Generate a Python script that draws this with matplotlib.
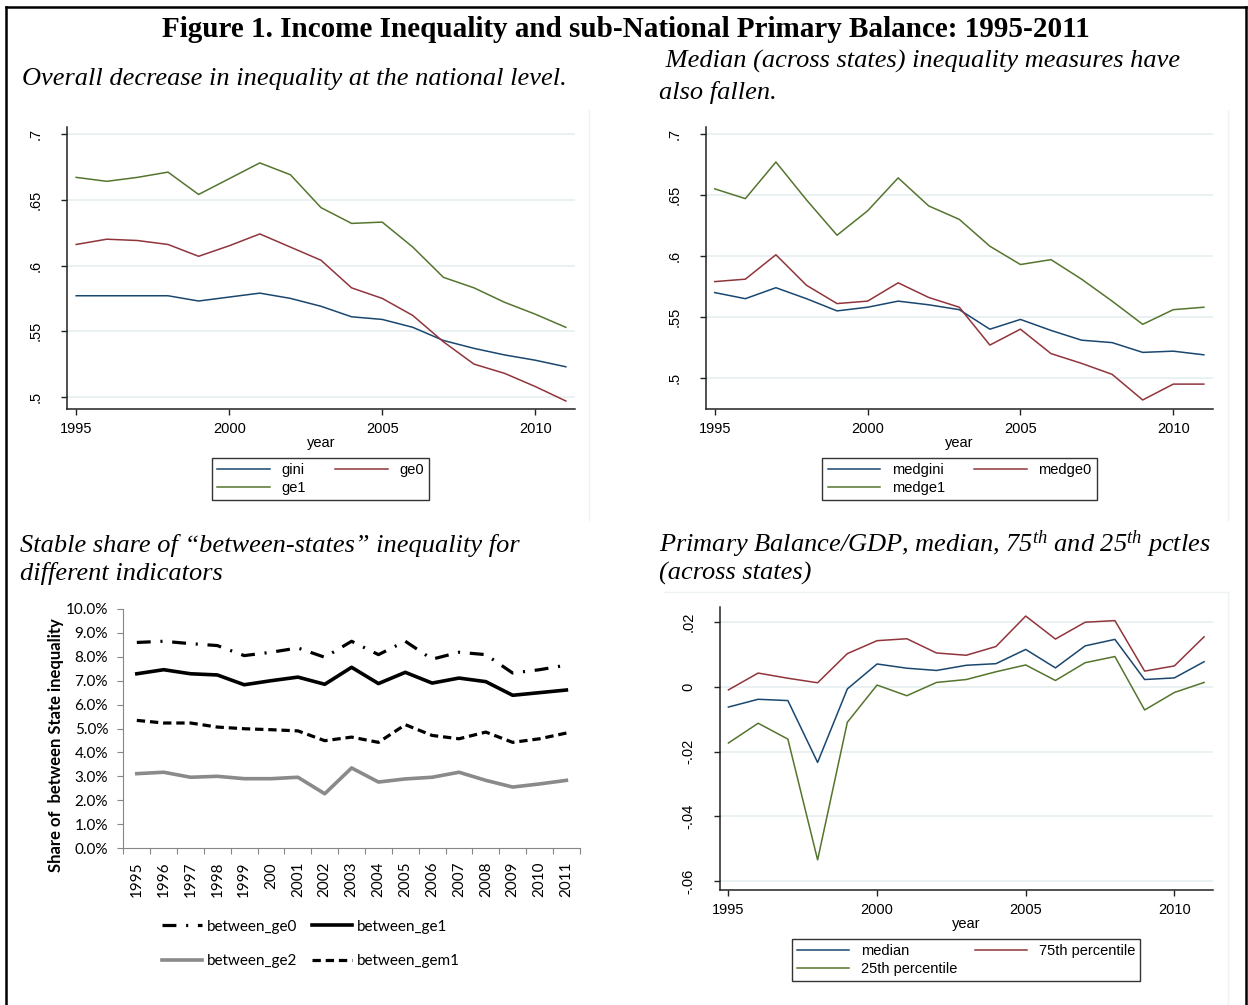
import matplotlib.pyplot as plt
from matplotlib.lines import Line2D
import numpy as np

plt.rcParams['font.family'] = ['Liberation Sans', 'DejaVu Sans']
plt.rcParams['mathtext.fontset'] = 'custom'
plt.rcParams['mathtext.it'] = 'Liberation Serif:italic'
plt.rcParams['mathtext.rm'] = 'Liberation Serif:italic'
plt.rcParams['lines.scale_dashes'] = False

years = list(range(1995, 2012))

# national inequality
gini = [0.577, 0.577, 0.577, 0.577, 0.573, 0.576, 0.579, 0.575, 0.569, 0.561, 0.559,
        0.553, 0.543, 0.537, 0.532, 0.528, 0.523]
ge0 = [0.616, 0.620, 0.619, 0.616, 0.607, 0.615, 0.624, 0.614, 0.604, 0.583, 0.575,
       0.562, 0.542, 0.525, 0.518, 0.508, 0.497]
ge1 = [0.667, 0.664, 0.667, 0.671, 0.654, 0.666, 0.678, 0.669, 0.644, 0.632, 0.633,
       0.614, 0.591, 0.583, 0.572, 0.563, 0.553]

# median across states
medgini = [0.570, 0.565, 0.574, 0.565, 0.555, 0.558, 0.563, 0.560, 0.556, 0.540, 0.548,
           0.539, 0.531, 0.529, 0.521, 0.522, 0.519]
medge0 = [0.579, 0.581, 0.601, 0.576, 0.561, 0.563, 0.578, 0.566, 0.558, 0.527, 0.540,
          0.520, 0.512, 0.503, 0.482, 0.495, 0.495]
medge1 = [0.655, 0.647, 0.677, 0.646, 0.617, 0.637, 0.664, 0.641, 0.630, 0.608, 0.593,
          0.597, 0.581, 0.563, 0.544, 0.556, 0.558]

# share of between-states inequality (percent)
cats = ["1995", "1996", "1997", "1998", "1999", "200", "2001", "2002", "2003", "2004",
        "2005", "2006", "2007", "2008", "2009", "2010", "2011"]
between_ge0 = [8.60, 8.65, 8.55, 8.47, 8.05, 8.19, 8.37, 7.98, 8.65, 8.09, 8.65,
               7.90, 8.19, 8.09, 7.32, 7.46, 7.65]
between_ge1 = [7.29, 7.46, 7.29, 7.24, 6.83, 7.00, 7.15, 6.85, 7.56, 6.88, 7.35,
               6.90, 7.11, 6.96, 6.39, 6.50, 6.61]
between_ge2 = [3.11, 3.17, 2.96, 3.00, 2.90, 2.90, 2.96, 2.27, 3.35, 2.76, 2.89,
               2.96, 3.17, 2.83, 2.55, 2.68, 2.83]
between_gem1 = [5.34, 5.23, 5.23, 5.06, 4.99, 4.95, 4.90, 4.49, 4.64, 4.42, 5.16,
                4.71, 4.57, 4.85, 4.42, 4.57, 4.81]

# primary balance / GDP
pb_median = [-0.0062, -0.0038, -0.0042, -0.0233, -0.0006, 0.0071, 0.0058, 0.0051, 0.0067,
             0.0072, 0.0116, 0.0059, 0.0127, 0.0147, 0.0023, 0.0028, 0.0078]
pb_p75 = [-0.0009, 0.0043, 0.0027, 0.0013, 0.0103, 0.0143, 0.0149, 0.0105, 0.0098,
          0.0125, 0.0219, 0.0148, 0.0200, 0.0205, 0.0049, 0.0065, 0.0155]
pb_p25 = [-0.0173, -0.0112, -0.0161, -0.0534, -0.0109, 0.0006, -0.0027, 0.0014, 0.0023,
          0.0047, 0.0068, 0.0020, 0.0075, 0.0094, -0.0071, -0.0017, 0.0014]

W, H = 1248, 1005
fig = plt.figure(figsize=(W / 100, H / 100), dpi=100)

def box(x0, y0, x1, y1):
    # pixel box (top-left origin) -> figure fraction rect
    return [x0 / W, 1 - y1 / H, (x1 - x0) / W, (y1 - y0) / H]

stata_cols = ['#1a476f', '#90353b', '#55752f']
serif = ['Liberation Serif', 'DejaVu Serif']

def stata_panel(rect, series, labels, ylim, yticks, yticklabels, leg_xy, leg_cs):
    ax = fig.add_axes(rect)
    for vals, col, lab in zip(series, stata_cols, labels):
        ax.plot(years, vals, color=col, lw=1.1, label=lab)
    ax.set_xlim(1994.7, 2011.3)
    ax.set_ylim(*ylim)
    ax.set_xticks([1995, 2000, 2005, 2010])
    ax.set_yticks(yticks)
    ax.set_yticklabels(yticklabels, rotation=90, va='center')
    ax.grid(axis='y', color='#e3edf0', lw=1.1)
    ax.set_axisbelow(True)
    for s in ['top', 'right']:
        ax.spines[s].set_visible(False)
    for s in ['left', 'bottom']:
        ax.spines[s].set_color('#222222')
        ax.spines[s].set_linewidth(1.1)
    ax.tick_params(direction='out', length=4.3, width=1, labelsize=10.5, color='#222222')
    ax.tick_params(axis='y', pad=13)
    ax.tick_params(axis='x', pad=5)
    ax.set_xlabel('year', fontsize=10.5, labelpad=0)
    h = ax.get_lines()
    leg = fig.legend([h[0], h[2], h[1]], [labels[0], labels[2], labels[1]], ncol=2,
                     loc='center', bbox_to_anchor=(leg_xy[0] / W, 1 - leg_xy[1] / H),
                     frameon=True, fancybox=False, edgecolor='black', fontsize=10.5,
                     handlelength=3.6, columnspacing=leg_cs, labelspacing=0.25,
                     borderpad=0.35, handletextpad=0.8)
    leg.get_frame().set_linewidth(1.0)
    return ax

# frame
fig.add_artist(Line2D([5.5 / W, 5.5 / W], [0, 1 - 7 / H], color='black', lw=1.8))
fig.add_artist(Line2D([1245.5 / W, 1245.5 / W], [0, 1 - 7 / H], color='black', lw=1.8))
fig.add_artist(Line2D([5.5 / W, 1245.5 / W], [1 - 7 / H, 1 - 7 / H], color='black', lw=1.8))
# faint graph-region borders
faint = '#eef2f2'
fig.add_artist(Line2D([589 / W, 589 / W], [1 - 110 / H, 1 - 520 / H], color=faint, lw=1))
fig.add_artist(Line2D([1228 / W, 1228 / W], [1 - 110 / H, 1 - 520 / H], color=faint, lw=1))
fig.add_artist(Line2D([664 / W, 1228 / W], [1 - 592 / H, 1 - 592 / H], color=faint, lw=1))
fig.add_artist(Line2D([1228 / W, 1228 / W], [1 - 592 / H, 0], color=faint, lw=1))

# titles
fig.text(626 / W, 1 - 37 / H, 'Figure 1. Income Inequality and sub-National Primary Balance: 1995-2011',
         ha='center', va='baseline', fontsize=21, fontweight='bold', family=serif)
fig.text(22 / W, 1 - 85 / H, 'Overall decrease in inequality at the national level.',
         va='baseline', fontsize=19, style='italic', family=serif)
fig.text(659 / W, 1 - 68 / H, ' Median (across states) inequality measures have',
         va='baseline', fontsize=19, style='italic', family=serif)
fig.text(659 / W, 1 - 99 / H, 'also fallen.',
         va='baseline', fontsize=19, style='italic', family=serif)
fig.text(20 / W, 1 - 552 / H, 'Stable share of \u201cbetween-states\u201d inequality for',
         va='baseline', fontsize=19, style='italic', family=serif)
fig.text(20 / W, 1 - 580 / H, 'different indicators',
         va='baseline', fontsize=19, style='italic', family=serif)
fig.text(659 / W, 1 - 552 / H, r'Primary Balance/GDP, median, 75$^{th}$ and 25$^{th}$ pctles',
         va='baseline', fontsize=19, style='italic', family=serif)
fig.text(659 / W, 1 - 580 / H, '(across states)',
         va='baseline', fontsize=19, style='italic', family=serif)

# top-left
stata_panel(box(67, 127, 575, 409), [gini, ge0, ge1], ['gini', 'ge0', 'ge1'],
            (0.4909, 0.7053), [0.5, 0.55, 0.6, 0.65, 0.7], ['.5', '.55', '.6', '.65', '.7'],
            (320.5, 479), 2.0)

# top-right
stata_panel(box(705.6, 127, 1213, 409), [medgini, medge0, medge1], ['medgini', 'medge0', 'medge1'],
            (0.4746, 0.7057), [0.5, 0.55, 0.6, 0.65, 0.7], ['.5', '.55', '.6', '.65', '.7'],
            (959.5, 479), 2.0)

# bottom-right
stata_panel(box(719.5, 607, 1213, 890), [pb_median, pb_p75, pb_p25],
            ['median', '75th percentile', '25th percentile'],
            (-0.0627, 0.0247), [-0.06, -0.04, -0.02, 0, 0.02], ['-.06', '-.04', '-.02', '0', '.02'],
            (966, 960), 1.2)

# bottom-left (spreadsheet style)
narrow = ['Lato', 'DejaVu Sans']
ax = fig.add_axes(box(123.4, 609, 579.8, 848))
x = np.arange(len(cats))
l_ge0, = ax.plot(x, np.array(between_ge0) / 100, color='black', lw=2.3, dashes=(10, 7, 1.5, 7),
                 label='between_ge0')
l_ge1, = ax.plot(x, np.array(between_ge1) / 100, color='black', lw=2.6, label='between_ge1')
l_ge2, = ax.plot(x, np.array(between_ge2) / 100, color='#8a8a8a', lw=2.6, label='between_ge2')
l_gem1, = ax.plot(x, np.array(between_gem1) / 100, color='black', lw=2.3, dashes=(6, 3.5),
                  label='between_gem1')
ax.set_xlim(-0.5, len(cats) - 0.5)
ax.set_ylim(0, 0.10)
yt = np.arange(0, 11) / 100
ax.set_yticks(yt)
ax.set_yticklabels(['%.1f%%' % (v * 100) for v in yt], family=narrow, fontsize=11)
ax.set_xticks(np.arange(-0.5, len(cats), 1))
ax.set_xticklabels([])
ax.set_xticks(x, minor=True)
ax.set_xticklabels(cats, minor=True, rotation=90, family=narrow, fontsize=11)
ax.tick_params(axis='x', which='minor', length=0, pad=10)
ax.tick_params(axis='x', which='major', length=4, color='#868686', direction='out')
ax.tick_params(axis='y', length=4, color='#868686', direction='out', pad=7)
for s in ['top', 'right']:
    ax.spines[s].set_visible(False)
for s in ['left', 'bottom']:
    ax.spines[s].set_color('#868686')
fig.text(56.5 / W, 1 - 745 / H, 'Share of  between State inequality', rotation=90,
         ha='center', va='center', fontsize=12, fontweight='bold', family=narrow)
fig.legend([l_ge0, l_ge2, l_ge1, l_gem1], ['between_ge0', 'between_ge2', 'between_ge1', 'between_gem1'],
           ncol=2, loc='center', bbox_to_anchor=(311 / W, 1 - 944 / H), frameon=False,
           prop={'family': narrow, 'size': 11}, handlelength=2.6, handletextpad=0.3,
           columnspacing=1.0, labelspacing=1.35)

fig.savefig('out.png', dpi=100)
